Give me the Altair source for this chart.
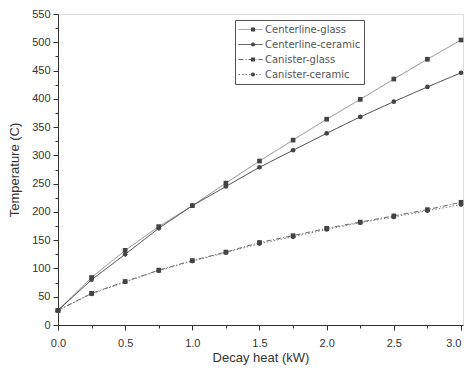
import altair as alt
import pandas as pd

decay_heat = [0.0, 0.25, 0.5, 0.75, 1.0, 1.25, 1.5, 1.75, 2.0, 2.25, 2.5, 2.75, 3.0]
centerline_glass = [26, 84, 132, 174, 211, 251, 290, 327, 364, 399, 435, 470, 504]
centerline_ceramic = [26, 80, 125, 171, 211, 245, 279, 309, 339, 368, 395, 421, 446]
canister_glass = [26, 56, 77, 97, 114, 129, 146, 158, 171, 182, 193, 204, 217]
canister_ceramic = [26, 55, 76, 96, 113, 128, 144, 156, 169, 181, 191, 202, 213]

series_names = ["Centerline-glass", "Centerline-ceramic", "Canister-glass", "Canister-ceramic"]
series_values = [centerline_glass, centerline_ceramic, canister_glass, canister_ceramic]

x_major = [0.0, 0.5, 1.0, 1.5, 2.0, 2.5, 3.0]
x_minor = [0.25, 0.75, 1.25, 1.75, 2.25, 2.75]
y_major = list(range(0, 551, 50))
y_minor = list(range(25, 550, 50))

marker_keys = [n + " " for n in series_names]

rows = []
for name, key, vals in zip(series_names, marker_keys, series_values):
    for x, y in zip(decay_heat, vals):
        rows.append({"heat": x, "temp": y, "series": name, "series2": key})
df = pd.DataFrame(rows)

line_colors = ["#8a8a8a", "#3a3a3a", "#6a6a6a", "#7a7a7a"]
dashes = [[1, 0], [1, 0], [5, 2, 1, 2], [1.5, 2]]
shapes = ["square", "circle", "square", "circle"]

x_scale = alt.Scale(domain=[0, 3.015], nice=False, zero=False)
y_scale = alt.Scale(domain=[0, 550], nice=False)

axis_common = dict(domainColor="#333", tickColor="#333", labelColor="#333",
                   labelFont="Liberation Sans", titleFont="Liberation Sans",
                   labelFontSize=11, titleFontSize=13, titleFontWeight="normal",
                   titleColor="#333", grid=False)

legend_common = dict(title=None, orient="none", labelFont="DejaVu Sans", labelFontSize=10,
                     padding=3, rowPadding=2, labelOffset=2, clipHeight=13)

lines = alt.Chart(df).mark_line(strokeWidth=1).encode(
    x=alt.X("heat:Q", scale=x_scale,
            axis=alt.Axis(values=x_major, format=".1f", title="Decay heat (kW)", orient="bottom",
                          tickSize=5, labelPadding=7, titlePadding=3, labelFlush=False,
                          labelAlign={"condition": {"test": "datum.value >= 3", "value": "right"},
                                      "value": "center"},
                          **axis_common)),
    y=alt.Y("temp:Q", scale=y_scale,
            axis=alt.Axis(values=y_major, title="Temperature (C)", tickSize=5, orient="left",
                          labelPadding=3, titlePadding=10, **axis_common)),
    color=alt.Color("series:N", scale=alt.Scale(domain=series_names, range=line_colors),
                    legend=alt.Legend(legendX=177, legendY=6,
                                      symbolType="stroke", symbolSize=576, symbolStrokeWidth=1,
                                      labelColor="#555", strokeColor="#555", fillColor="white",
                                      **legend_common)),
    strokeDash=alt.StrokeDash("series:N", scale=alt.Scale(domain=series_names, range=dashes),
                              legend=alt.Legend(title=None)),
)

points = alt.Chart(df).mark_point(filled=True, size=22, color="#444", opacity=1).encode(
    x=alt.X("heat:Q", scale=x_scale, axis=None),
    y=alt.Y("temp:Q", scale=y_scale, axis=None),
    shape=alt.Shape("series2:N", scale=alt.Scale(domain=marker_keys, range=shapes),
                    legend=alt.Legend(legendX=187, legendY=6, labelExpr="''",
                                      symbolSize=16, symbolFillColor="#444", symbolStrokeWidth=0,
                                      **legend_common)),
)

minor_x = alt.Chart(pd.DataFrame({"heat": x_minor})).mark_tick(opacity=0).encode(
    x=alt.X("heat:Q", scale=x_scale,
            axis=alt.Axis(values=x_minor, labels=False, tickSize=3, domain=False, title=None,
                          orient="bottom", tickColor="#333", grid=False)),
)
minor_y = alt.Chart(pd.DataFrame({"temp": y_minor})).mark_tick(opacity=0).encode(
    y=alt.Y("temp:Q", scale=y_scale,
            axis=alt.Axis(values=y_minor, labels=False, tickSize=3, domain=False, title=None,
                          orient="left", tickColor="#333", grid=False)),
)

chart = alt.layer(lines, points, minor_x, minor_y).resolve_axis(
    x="independent", y="independent"
).properties(
    width=405, height=311,
    autosize=alt.AutoSizeParams(type="none"),
    padding={"left": 50, "top": 6, "right": 1, "bottom": 42},
).configure_view(stroke="#333", strokeWidth=1).configure(background="white")

chart.save("out.html", embed_options={"renderer": "svg", "actions": False})
